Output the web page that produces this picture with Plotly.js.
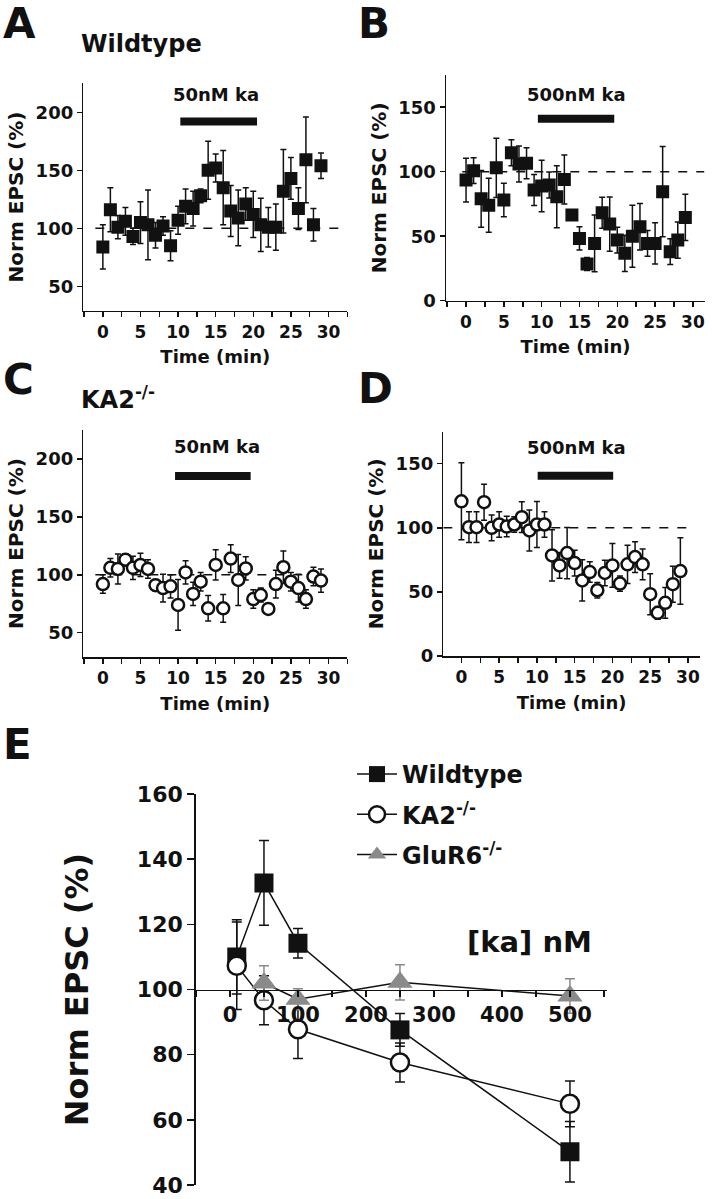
<!DOCTYPE html>
<html><head><meta charset="utf-8">
<script src="https://cdn.plot.ly/plotly-3.0.1.min.js"></script>
<style>html,body{margin:0;padding:0;background:#fff;}#chart{width:712px;height:1199px;}</style>
</head><body><div id="chart"></div>
<script>
// ---------- data ----------
const timeMin = [0,1,2,3,4,5,6,7,8,9,10,11,12,13,14,15,16,17,18,19,20,21,22,23,24,25,26,27,28,29];

// A: Wildtype, 50 nM ka
const wt50 = [84,116,101,106,93,105,103,94,102,85,107,119,117,128,150,152,135,115,109,121,112,103,101,101,132,143,117,159,103,154];
const wt50Err = [19,19,10,12,7,18,30,11,8,13,12,15,15,6,25,12,32,22,24,14,20,23,17,20,36,18,18,37,14,11];

// B: Wildtype, 500 nM ka
const wt500 = [93.5,100.8,79,74,103,78,114.7,106,106.5,85.8,88.9,89.7,80.6,94,66.4,48.3,28.4,44.4,68.2,59.4,47,36.7,50,57.4,44.4,44.4,84.5,38,47,64.6];
const wt500Err = [17,10,22,21,23,13,10,14,12,12,20,10,24,19,2,9,5,22,12,21,10,14,24,18,10,16,35,10,14,18];

// C: KA2-/-, 50 nM ka
const ka50 = [92,106,105,113,106,108.5,105,91,88.5,90,74,102,83.5,94,71,108.5,71,114,95.5,105.5,79,82.5,70.5,92,106.5,94,88.5,79,98.5,95];
const ka50Err = [8,8,13,5,10,10,8,5,12,10,22,10,10,8,11,13,12,12,22,10,8,6,3,12,14,8,12,8,8,10];

// D: KA2-/-, 500 nM ka
const ka500 = [120.7,100.5,100.5,120,100,102.6,101,102.6,108.3,98,102.6,102.6,78.5,70.7,80.3,72.5,59,65.5,51.3,64.8,70.7,56.5,71.5,77.2,71.5,48.2,33.7,41.5,56,66.3];
const ka500Err = [30,12,12,14,10,10,8,6,12,16,18,10,20,10,20,10,16,8,6,10,17,6,15,12,12,16,5,12,14,26];

// E: dose response
const conc = [10,50,100,250,500];
const wtDose = [110,132.7,114.2,87.6,50.2];
const wtDoseErr = [11.4,13,4.5,5,9.3];
const kaDose = [107.3,96.7,87.8,77.6,64.9];
const kaDoseErr = [13.4,7.5,9,6,7];
const gluConc = [50,100,250,500];
const gluDose = [102,97,102.2,98];
const gluDoseErr = [5.3,3.2,5.4,5.3];

// drug application bars (min) and labels
const barLabels = ['50nM ka','500nM ka','50nM ka','500nM ka'];
const barStart = [10.3,9.5,9.6,10.1];
const barEnd = [20.5,19.6,19.65,20.1];

// ---------- layout helpers ----------
const W = 712, H = 1199;
const fx = p => p / W;
const fy = p => 1 - p / H;
const FONT = 'DejaVu Sans';
const K = '#111';
const bold = (size, color) => ({family: FONT, size: size, color: color || K, weight: 'bold'});

function timeX(dom, rng) {
  return {
    domain: [fx(dom[0]), fx(dom[1])], range: rng,
    tickvals: [0,5,10,15,20,25,30], ticks: 'outside', ticklen: 5, tickwidth: 1.5, tickcolor: K,
    minor: {dtick: 2.5, tick0: 0, ticks: 'outside', ticklen: 5, tickwidth: 1.5, tickcolor: K},
    showline: true, linecolor: K, linewidth: 1.5, showgrid: false, zeroline: false,
    tickfont: bold(17), automargin: false, fixedrange: true,
    title: {text: 'Time (min)', font: bold(18), standoff: 10}
  };
}
function normY(dom, rng, vals) {
  return {
    domain: [fy(dom[1]), fy(dom[0])], range: rng,
    tickvals: vals, ticks: 'outside', ticklen: 5, tickwidth: 1.5, tickcolor: K,
    showline: true, linecolor: K, linewidth: 1.5, showgrid: false, zeroline: false,
    tickfont: bold(18), automargin: false, fixedrange: true,
    title: {text: 'Norm EPSC (%)', font: bold(20), standoff: 6}
  };
}

const errOpts = (arr) => ({type: 'data', array: arr, visible: true, color: K, thickness: 1.5, width: 3});

const traces = [
  {x: timeMin, y: wt50, xaxis: 'x', yaxis: 'y', mode: 'markers', type: 'scatter', showlegend: false,
   marker: {symbol: 'square', size: 13, color: K}, error_y: errOpts(wt50Err)},
  {x: timeMin, y: wt500, xaxis: 'x2', yaxis: 'y2', mode: 'markers', type: 'scatter', showlegend: false,
   marker: {symbol: 'square', size: 13, color: K}, error_y: errOpts(wt500Err)},
  {x: timeMin, y: ka50, xaxis: 'x3', yaxis: 'y3', mode: 'markers', type: 'scatter', showlegend: false,
   marker: {symbol: 'circle', size: 12, color: '#fff', line: {color: K, width: 2.5}}, error_y: errOpts(ka50Err)},
  {x: timeMin, y: ka500, xaxis: 'x4', yaxis: 'y4', mode: 'markers', type: 'scatter', showlegend: false,
   marker: {symbol: 'circle', size: 12, color: '#fff', line: {color: K, width: 2.5}}, error_y: errOpts(ka500Err)},
  // E
  {x: conc, y: wtDose, xaxis: 'x5', yaxis: 'y5', mode: 'lines+markers', type: 'scatter', name: 'Wildtype',
   legendgroup: 'a', line: {color: K, width: 1.5},
   marker: {symbol: 'square', size: 19, color: K},
   error_y: {type: 'data', array: wtDoseErr, visible: true, color: K, thickness: 1.5, width: 5}},
  {x: conc, y: kaDose, xaxis: 'x5', yaxis: 'y5', mode: 'lines+markers', type: 'scatter', name: 'KA2<sup>-/-</sup>',
   legendgroup: 'b', line: {color: K, width: 1.5},
   marker: {symbol: 'circle', size: 18, color: '#fff', line: {color: K, width: 2.5}},
   error_y: {type: 'data', array: kaDoseErr, visible: true, color: K, thickness: 1.5, width: 5}},
  {x: gluConc, y: gluDose, xaxis: 'x5', yaxis: 'y5', mode: 'lines+markers', type: 'scatter', name: 'GluR6<sup>-/-</sup>',
   legendgroup: 'c', line: {color: K, width: 1.5},
   marker: {symbol: 'triangle-up', size: 22, color: '#8a8a8a'},
   error_y: {type: 'data', array: gluDoseErr, visible: true, color: '#8a8a8a', thickness: 1.5, width: 5}}
];

// E domains
const eYdom = [1185, 794];
const eYrange = [40, 160];
const eCross = 100;
const eXpos = fy(eYdom[0]) + (eCross - eYrange[0]) / (eYrange[1] - eYrange[0]) * (fy(eYdom[1]) - fy(eYdom[0]));

const layout = {
  width: W, height: H, margin: {l: 0, r: 0, t: 0, b: 0, pad: 0},
  paper_bgcolor: '#fff', plot_bgcolor: 'rgba(0,0,0,0)',
  font: {family: FONT, color: K, weight: 'bold'},
  xaxis: Object.assign(timeX([83.3, 347.3], [-2.6, 32.5]), {anchor: 'y'}),
  yaxis: Object.assign(normY([83.3, 310.7], [29, 225], [50,100,150,200]), {anchor: 'x'}),
  xaxis2: Object.assign(timeX([446, 705], [-2.65, 31.6]), {anchor: 'y2'}),
  yaxis2: Object.assign(normY([75, 300.7], [0, 175], [0,50,100,150]), {anchor: 'x2'}),
  xaxis3: Object.assign(timeX([83.3, 347.3], [-2.6, 32.5]), {anchor: 'y3'}),
  yaxis3: Object.assign(normY([430, 657], [29, 225], [50,100,150,200]), {anchor: 'x3'}),
  xaxis4: Object.assign(timeX([443.3, 700], [-2.4, 31.6]), {anchor: 'y4'}),
  yaxis4: Object.assign(normY([431.7, 656], [0, 175], [0,50,100,150]), {anchor: 'x4'}),
  xaxis5: {
    domain: [fx(195.7), fx(607)], range: [-50.4, 554.5], anchor: 'free', position: eXpos,
    tickvals: [0,100,200,300,400,500], ticks: 'outside', ticklen: 6, tickwidth: 1.5, tickcolor: K,
    minor: {dtick: 50, tick0: 0, ticks: 'outside', ticklen: 6, tickwidth: 1.5, tickcolor: K},
    showline: true, linecolor: K, linewidth: 1.5, showgrid: false, zeroline: false,
    tickfont: bold(21), automargin: false, fixedrange: true
  },
  yaxis5: {
    domain: [fy(eYdom[0]), fy(eYdom[1])], range: eYrange, anchor: 'x5',
    tickmode: 'linear', tick0: 40, dtick: 20, ticks: 'outside', ticklen: 7, tickwidth: 1.5, tickcolor: K,
    showline: true, linecolor: K, linewidth: 1.5, showgrid: false, zeroline: false,
    tickfont: bold(22), automargin: false, fixedrange: true,
    title: {text: 'Norm EPSC (%)', font: bold(32), standoff: 38}
  },
  showlegend: true,
  legend: {x: fx(352), y: fy(752), xanchor: 'left', yanchor: 'top', bgcolor: 'rgba(0,0,0,0)',
           font: bold(24), traceorder: 'grouped', tracegroupgap: 6, itemwidth: 40},
  shapes: [],
  annotations: []
};

// reference dashed lines at 100%
const dashSpans = [[-1, 32], [-0.5, 31.5], [-1, 30], [-2.4, 30]];
const axPairs = [['x','y'],['x2','y2'],['x3','y3'],['x4','y4']];
const barY = [192, 141, 185.3, 140.6];
const labY = [215.3, 159.5, 210.4, 162.9];
const labX = [15.1, 14.6, 15.2, 15.3];
axPairs.forEach(([xr, yr], i) => {
  layout.shapes.push({type: 'line', xref: xr, yref: yr, x0: dashSpans[i][0], x1: dashSpans[i][1], y0: 100, y1: 100,
    line: {color: K, width: 1.5, dash: 'dash'}, layer: 'below'});
  layout.shapes.push({type: 'line', xref: xr, yref: yr, x0: barStart[i], x1: barEnd[i], y0: barY[i], y1: barY[i],
    line: {color: K, width: 8}});
  layout.annotations.push({xref: xr, yref: yr, x: labX[i], y: labY[i], text: barLabels[i], showarrow: false,
    font: bold(18), xanchor: 'center', yanchor: 'middle'});
});

// panel letters and titles
const panelText = [
  {t: 'A', x: 1, y: 24, s: 42},
  {t: 'B', x: 356, y: 24, s: 42},
  {t: 'C', x: 1, y: 379, s: 42},
  {t: 'D', x: 356, y: 389, s: 42},
  {t: 'E', x: 1, y: 744, s: 42},
  {t: 'Wildtype', x: 79, y: 44, s: 24},
  {t: 'KA2<sup>-/-</sup>', x: 79, y: 398, s: 24}
];
panelText.forEach(p => layout.annotations.push({xref: 'paper', yref: 'paper', x: fx(p.x), y: fy(p.y),
  text: p.t, showarrow: false, xanchor: 'left', yanchor: 'middle', font: bold(p.s)}));

layout.annotations.push({xref: 'x5', yref: 'y5', x: 440, y: 114.5, text: '[ka] nM', showarrow: false,
  xanchor: 'center', yanchor: 'middle', font: bold(29)});

Plotly.newPlot('chart', traces, layout, {staticPlot: true, displayModeBar: false});
</script></body></html>
